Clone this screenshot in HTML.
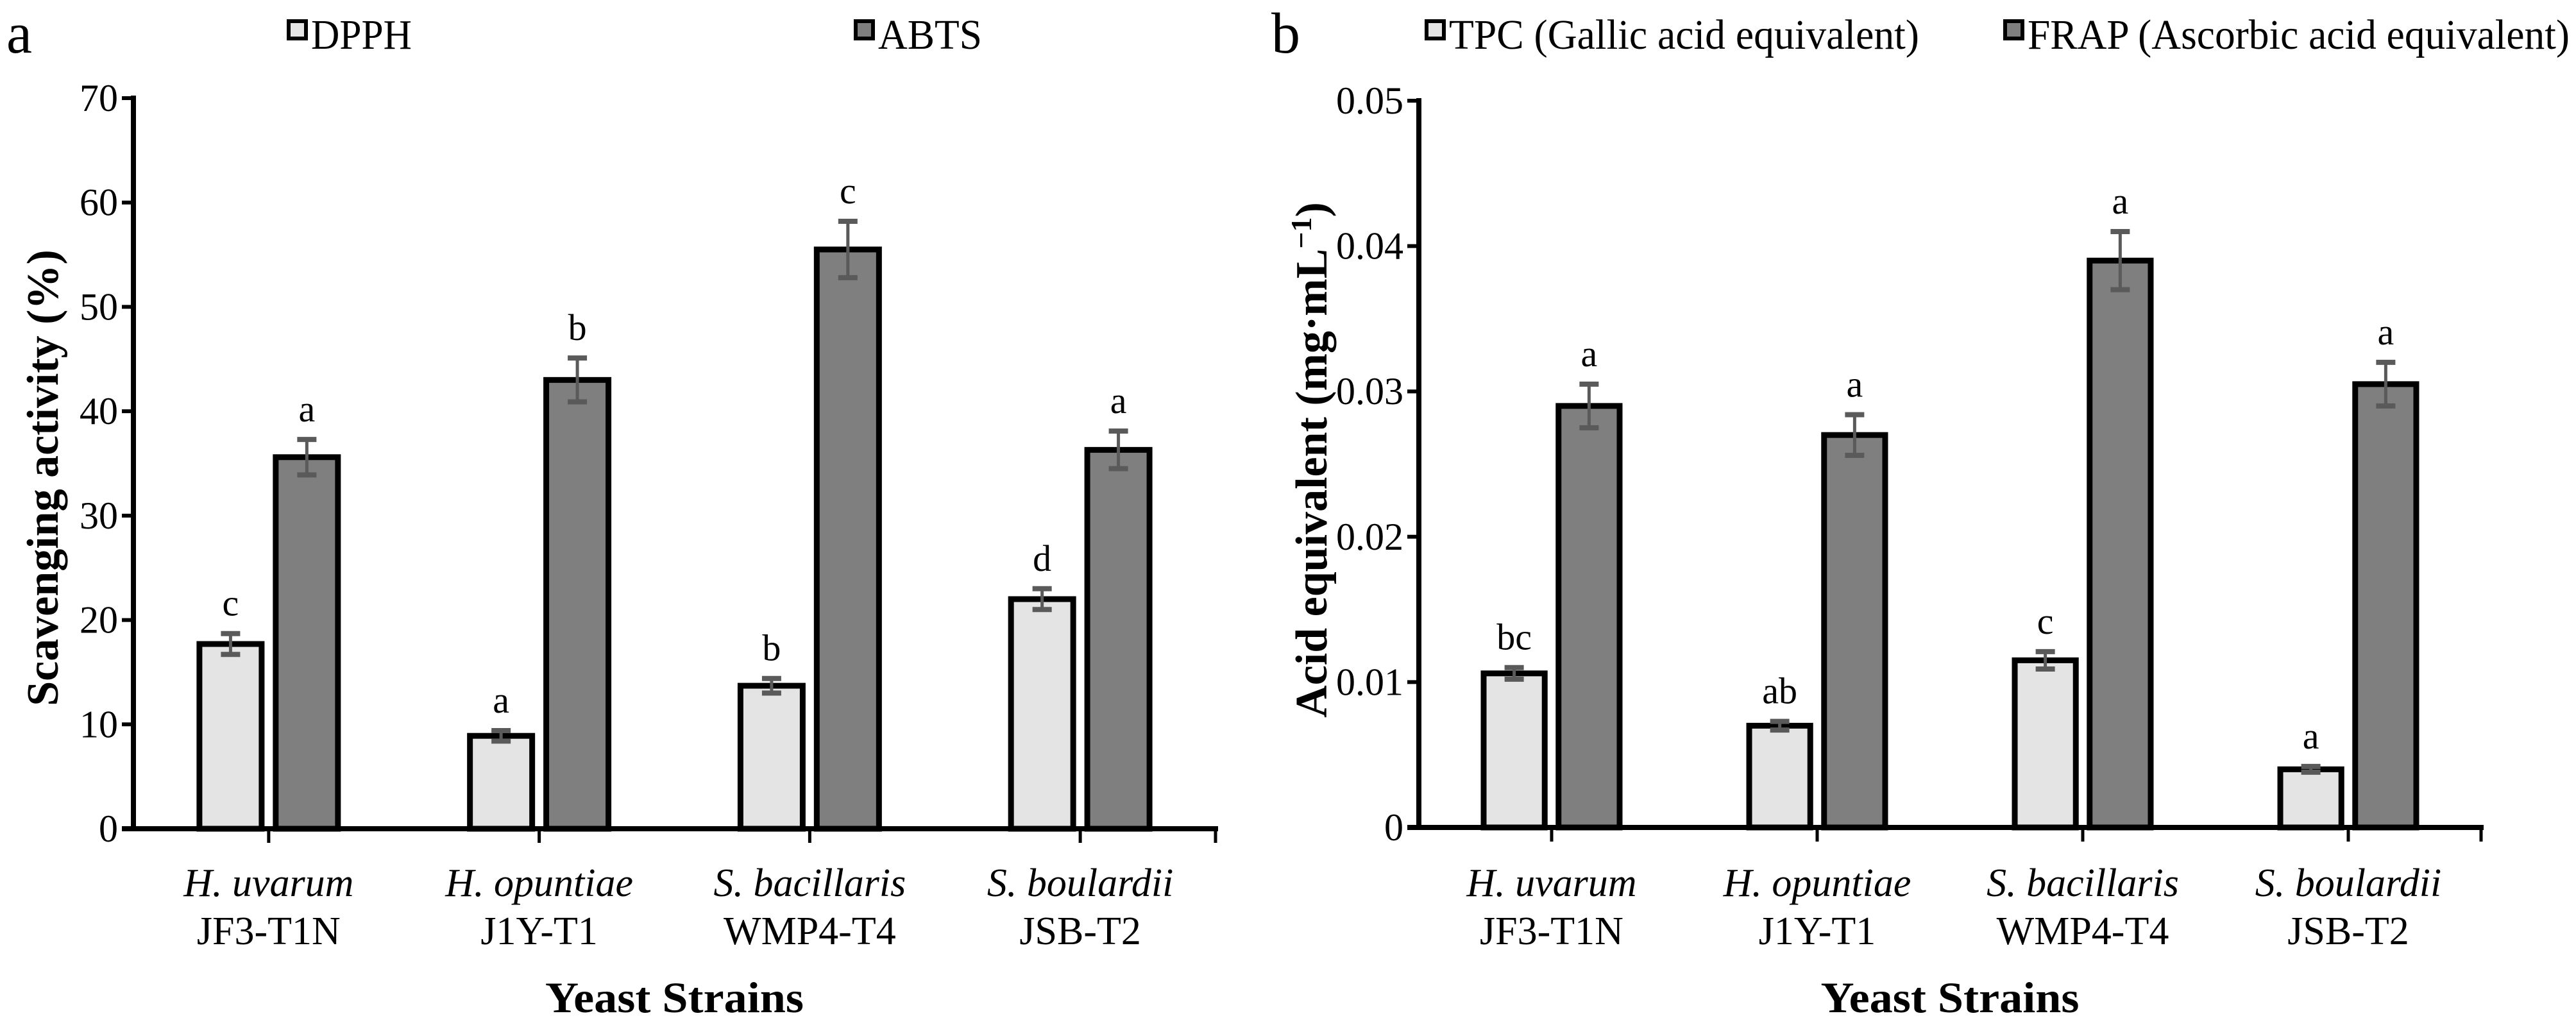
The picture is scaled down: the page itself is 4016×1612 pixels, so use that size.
<!DOCTYPE html>
<html><head><meta charset="utf-8"><style>
html,body{margin:0;padding:0;background:#fff;}
svg{display:block;}
svg text{font-family:"Liberation Serif","Times New Roman",Times,"Noto Serif CJK SC",serif;fill:#000;}
</style></head><body>
<svg id="fig" width="4016" height="1612" viewBox="0 0 4016 1612" xmlns="http://www.w3.org/2000/svg"></svg>
<script>
// Panel a data
const categoriesA = ["H. uvarum|JF3-T1N","H. opuntiae|J1Y-T1","S. bacillaris|WMP4-T4","S. boulardii|JSB-T2"];
const dpphValues = [17.7, 8.9, 13.7, 22.0];
const dpphErrors = [1.0, 0.5, 0.7, 1.0];
const dpphLetters = ["c","a","b","d"];
const abtsValues = [35.6, 43.0, 55.5, 36.3];
const abtsErrors = [1.7, 2.1, 2.7, 1.8];
const abtsLetters = ["a","b","c","a"];
const yTicksA = [0,10,20,30,40,50,60,70];
// Panel b data
const tpcValues = [0.0106, 0.0070, 0.0115, 0.0040];
const tpcErrors = [0.0004, 0.0003, 0.0006, 0.0002];
const tpcLetters = ["bc","ab","c","a"];
const frapValues = [0.0290, 0.0270, 0.0390, 0.0305];
const frapErrors = [0.0015, 0.0014, 0.0020, 0.0015];
const frapLetters = ["a","a","a","a"];
const yTicksB = [0,0.01,0.02,0.03,0.04,0.05];
const yTickLabelsB = ["0","0.01","0.02","0.03","0.04","0.05"];

const NS="http://www.w3.org/2000/svg";
const svg=document.getElementById('fig');
function mk(tag,attrs,parent){const e=document.createElementNS(NS,tag);for(const k in attrs)e.setAttribute(k,attrs[k]);(parent||svg).appendChild(e);return e;}

function panel(o){
  const g=mk('g',{});
  
  
  const y=v=>o.y0-(v-o.ymin)/(o.ymax-o.ymin)*(o.y0-o.y1);
  const n=o.cats.length, step=(o.x1-o.x0)/n;
  const cx=i=>o.x0+step*(i+0.5);
  const bw=step*0.23, gap=step*0.026;
  const pl=mk('text',{x:o.letterX,y:82,'font-size':90},g);pl.textContent=o.letter;
  
  
  o.legend.forEach(L=>{
    const lg=mk('g',{},g);
    
    
    mk('rect',{x:L.x,y:33,width:27,height:27,fill:L.fill,stroke:'#000','stroke-width':6},lg);
    const t=mk('text',{x:L.x+35,y:76,'font-size':66,textLength:L.w,lengthAdjust:'spacingAndGlyphs'},lg);t.textContent=L.label;
  });
  o.series.forEach((s,si)=>{
    s.vals.forEach((v,i)=>{
      const left= si===0 ? cx(i)-gap-bw : cx(i)+gap;
      const top=y(v);
      const r=mk('rect',{x:left,y:top,width:bw,height:o.y0-top,fill:s.fill,stroke:'#000','stroke-width':9},g);
      
      
      const bx=left+bw/2, et=y(v+s.errs[i]), eb=y(v-s.errs[i]);
      const eg=mk('g',{stroke:'#5a5a5a','stroke-width':5},g);
      
      
      mk('line',{x1:bx,y1:et,x2:bx,y2:eb},eg);
      mk('line',{x1:bx-15,y1:et,x2:bx+15,y2:et,'stroke-width':8},eg);
      mk('line',{x1:bx-15,y1:eb,x2:bx+15,y2:eb,'stroke-width':8},eg);
      const lt=mk('text',{x:bx,y:et-28,'font-size':58,'text-anchor':'middle'},g);
      lt.textContent=s.letters[i];
      
      
    });
  });
  const ax=mk('g',{stroke:'#000','stroke-width':8,fill:'none'},g);
  
  
  mk('line',{x1:o.x0,y1:o.y1-4,x2:o.x0,y2:o.y0+4},ax);
  mk('line',{x1:o.x0-18,y1:o.y0,x2:o.x1+4,y2:o.y0},ax);
  o.ticks.forEach((t,i)=>{
    mk('line',{x1:o.x0-18,y1:y(t),x2:o.x0,y2:y(t),'stroke-width':6},ax);
    const tl=mk('text',{x:o.x0-24,y:y(t)+20,'font-size':60,'text-anchor':'end'},g);
    tl.textContent=o.tickLabels[i];
    
    
  });
  for(let i=0;i<n;i++){
    mk('line',{x1:cx(i),y1:o.y0,x2:cx(i),y2:o.y0+22,'stroke-width':5},ax);
    const [sp,st]=o.cats[i].split('|');
    const ct=mk('text',{x:cx(i),y:1397,'font-size':62,'text-anchor':'middle','font-style':'italic'},g);
    ct.textContent=sp;
    
    
    const cs=mk('text',{x:cx(i),y:1472,'font-size':62,'text-anchor':'middle'},g);
    cs.textContent=st;
    
    
  }
  mk('line',{x1:o.x1,y1:o.y0,x2:o.x1,y2:o.y0+22,'stroke-width':5},ax);
  const xt=mk('text',{x:(o.x0+o.x1)/2,y:1578,'font-size':68,'font-weight':'bold','text-anchor':'middle',textLength:403,lengthAdjust:'spacingAndGlyphs'},g);
  xt.textContent='Yeast Strains';
  
  
  const yt=mk('text',{x:0,y:0,'font-size':70,'font-weight':'bold','text-anchor':'middle',transform:`translate(${o.ytX},${o.ytY}) rotate(-90)`},g);
  yt.innerHTML=o.ytitle;
  
  
}

panel({name:'panel-a-chart',letter:'a',letterX:10,x0:208,x1:1895,y0:1292,y1:153,ymin:0,ymax:70,
  cats:categoriesA,ticks:yTicksA,tickLabels:yTicksA.map(String),
  series:[{key:'dpph',vals:dpphValues,errs:dpphErrors,letters:dpphLetters,fill:'#e4e4e4'},
          {key:'abts',vals:abtsValues,errs:abtsErrors,letters:abtsLetters,fill:'#7f7f7f'}],
  legend:[{x:450,w:157,label:'DPPH',fill:'#e4e4e4'},{x:1334,w:162,label:'ABTS',fill:'#7f7f7f'}],
  ytitle:'Scavenging activity (%)',ytX:90,ytY:745});

panel({name:'panel-b-chart',letter:'b',letterX:1982,x0:2212,x1:3868,y0:1290,y1:157,ymin:0,ymax:0.05,
  cats:categoriesA,ticks:yTicksB,tickLabels:yTickLabelsB,
  series:[{key:'tpc',vals:tpcValues,errs:tpcErrors,letters:tpcLetters,fill:'#e4e4e4'},
          {key:'frap',vals:frapValues,errs:frapErrors,letters:frapLetters,fill:'#7f7f7f'}],
  legend:[{x:2224,w:733,label:'TPC (Gallic acid equivalent)',fill:'#e4e4e4'},{x:3126,w:845,label:'FRAP (Ascorbic acid equivalent)',fill:'#7f7f7f'}],
  ytitle:'Acid equivalent (mg·mL<tspan dy="-24" font-size="46">−1</tspan><tspan dy="24">)</tspan>',ytX:2068,ytY:717});
</script>
</body></html>
